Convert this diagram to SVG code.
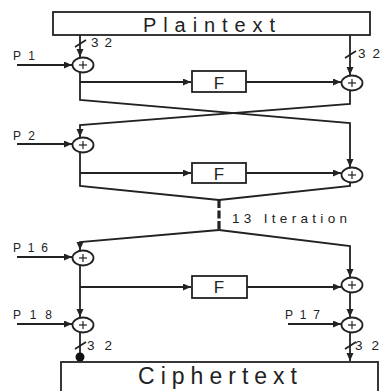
<svg xmlns="http://www.w3.org/2000/svg" width="382" height="391" viewBox="0 0 382 391">
<style>
.ln{fill:none;stroke:#222;stroke-width:1.8}
.bx{fill:#fff;stroke:#222;stroke-width:1.8}
.x{fill:#fff;stroke:#222;stroke-width:1.8}
.t{font-family:"Liberation Sans",Arial,sans-serif;fill:#222}
.p{font-size:12px}
.n{font-size:13.5px}
</style>
<defs>
<marker id="ah" markerUnits="userSpaceOnUse" markerWidth="9" markerHeight="8" refX="8" refY="3.5" orient="auto">
<path d="M0,0 L8,3.5 L0,7 z" fill="#222"/>
</marker>
<g id="plus"><line x1="-4" y1="0" x2="4" y2="0" stroke="#222" stroke-width="1.2"/><line x1="0" y1="-4" x2="0" y2="4" stroke="#222" stroke-width="1.2"/></g>
</defs>
<g id="connectors">
<path class="ln" d="M80,35 V57" marker-end="url(#ah)"/>
<path class="ln" d="M75,47 L86,40"/>
<path class="ln" d="M350,35 V75" marker-end="url(#ah)"/>
<path class="ln" d="M345,58 L356,51"/>
<path class="ln" d="M17,65 H72" marker-end="url(#ah)"/>
<path class="ln" d="M80,72 V100 L350,123 V167" marker-end="url(#ah)"/>
<path class="ln" d="M80,82 H191" marker-end="url(#ah)"/>
<path class="ln" d="M246,82 H341" marker-end="url(#ah)"/>
<path class="ln" d="M350,90 V104 L80,125 V137" marker-end="url(#ah)"/>
<path class="ln" d="M17,144 H72" marker-end="url(#ah)"/>
<path class="ln" d="M80,152 V186 L219,200"/>
<path class="ln" d="M80,173 H191" marker-end="url(#ah)"/>
<path class="ln" d="M246,173 H341" marker-end="url(#ah)"/>
<path class="ln" d="M350,182 V186 L219,200"/>
<path d="M219,200 V230" fill="none" stroke="#222" stroke-width="3.2" stroke-dasharray="8,2.5"/>
<path class="ln" d="M219,230 L80,242 V250" marker-end="url(#ah)"/>
<path class="ln" d="M219,230 L350,246 V277" marker-end="url(#ah)"/>
<path class="ln" d="M17,257 H72" marker-end="url(#ah)"/>
<path class="ln" d="M80,265 V317" marker-end="url(#ah)"/>
<path class="ln" d="M80,287 H191" marker-end="url(#ah)"/>
<path class="ln" d="M247,287 H341" marker-end="url(#ah)"/>
<path class="ln" d="M350,292 V317" marker-end="url(#ah)"/>
<path class="ln" d="M17,324 H72" marker-end="url(#ah)"/>
<path class="ln" d="M288,324 H341" marker-end="url(#ah)"/>
<path class="ln" d="M80,332 V357"/>
<circle cx="80" cy="357" r="4.5" fill="#111"/>
<path class="ln" d="M75,349 L86,342"/>
<path class="ln" d="M350,332 V361" marker-end="url(#ah)"/>
<path class="ln" d="M345,349 L356,342"/>
</g>
<g id="plaintext">
<rect class="bx" x="53" y="12" width="317" height="23"/>
<text class="t" x="143" y="32" font-size="20" textLength="132" lengthAdjust="spacing">Plaintext</text>
</g>
<g id="bits-labels">
<text class="t n" x="91" y="47" textLength="21" lengthAdjust="spacing">32</text>
<text class="t n" x="358" y="58" textLength="22" lengthAdjust="spacing">32</text>
<text class="t n" x="87" y="350" textLength="25" lengthAdjust="spacing">32</text>
<text class="t n" x="355" y="350" textLength="24" lengthAdjust="spacing">32</text>
</g>
<g id="xor-p1"><ellipse class="x" cx="83" cy="65" rx="10.5" ry="7.5"/><use href="#plus" x="83" y="65"/><text class="t p" x="13" y="60" textLength="22" lengthAdjust="spacing">P1</text></g>
<g id="f1"><rect class="bx" x="192" y="71" width="54" height="21"/><text class="t" x="219" y="88.5" font-size="17" text-anchor="middle">F</text></g>
<g id="xor-r1"><ellipse class="x" cx="352" cy="83" rx="10.5" ry="7.5"/><use href="#plus" x="352" y="83"/></g>
<g id="xor-p2"><ellipse class="x" cx="83" cy="145" rx="10.5" ry="7.5"/><use href="#plus" x="83" y="145"/><text class="t p" x="13" y="140" textLength="22" lengthAdjust="spacing">P2</text></g>
<g id="f2"><rect class="bx" x="192" y="163" width="54" height="20"/><text class="t" x="219" y="179.5" font-size="17" text-anchor="middle">F</text></g>
<g id="xor-r2"><ellipse class="x" cx="352" cy="175" rx="10.5" ry="7.5"/><use href="#plus" x="352" y="175"/></g>
<g id="iter"><text class="t" x="232" y="223" font-size="13.5" textLength="115" lengthAdjust="spacing">13 Iteration</text></g>
<g id="xor-p16"><ellipse class="x" cx="83" cy="258" rx="10.5" ry="7.5"/><use href="#plus" x="83" y="258"/><text class="t p" x="13" y="252" textLength="35" lengthAdjust="spacing">P16</text></g>
<g id="f3"><rect class="bx" x="192" y="276" width="55" height="22"/><text class="t" x="219" y="293" font-size="17" text-anchor="middle">F</text></g>
<g id="xor-r3"><ellipse class="x" cx="352" cy="285" rx="10.5" ry="7.5"/><use href="#plus" x="352" y="285"/></g>
<g id="xor-p18"><ellipse class="x" cx="83" cy="325" rx="10.5" ry="7.5"/><use href="#plus" x="83" y="325"/><text class="t p" x="13" y="319" textLength="39" lengthAdjust="spacing">P18</text></g>
<g id="xor-p17"><ellipse class="x" cx="352" cy="325" rx="10.5" ry="7.5"/><use href="#plus" x="352" y="325"/><text class="t p" x="285" y="319" textLength="35" lengthAdjust="spacing">P17</text></g>
<g id="ciphertext">
<rect class="bx" x="61" y="362" width="317" height="32"/>
<text class="t" x="138" y="384" font-size="23" textLength="159" lengthAdjust="spacing">Ciphertext</text>
</g>
</svg>
